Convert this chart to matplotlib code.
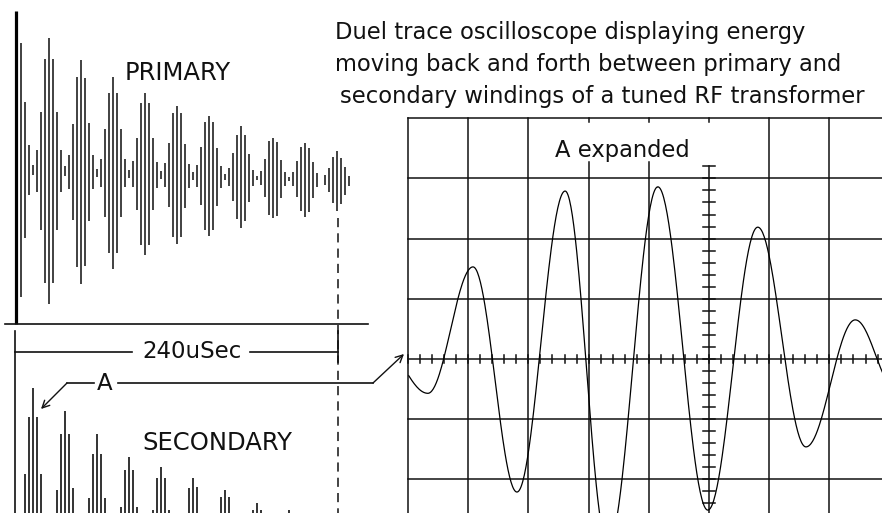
import numpy as np
import matplotlib
matplotlib.use("Agg")
import matplotlib.pyplot as plt

# canvas size in pixels
W, H = 882, 513

# primary winding: half height of each burst line (trace units)
primary = [127, 68, 25, 5, 21, 59, 112, 133, 112, 59, 21, 5,
           17, 48, 95, 112, 94, 49, 17, 4,
           14, 44, 80, 96, 80, 44, 14, 4,
           13, 36, 71, 81, 71, 36, 13, 4,
           12, 32, 62, 69, 62, 32, 12, 4,
           11, 29, 54, 60, 54, 29, 11, 3,
           9, 24, 42, 51, 43, 24, 8, 2,
           7, 19, 37, 40, 37, 19, 7, 2,
           7, 18, 32, 37, 32, 18, 7, 0,
           5, 12, 23, 30, 23, 14, 5]

# secondary winding: visible height of each burst line (trace units)
secondary = [0, 39, 96, 125, 96, 39, 0, 0,
             0, 23, 79, 102, 79, 25, 0, 0,
             0, 15, 59, 79, 59, 15, 0, 0,
             0, 6, 43, 56, 43, 6, 0, 0,
             0, 3, 35, 46, 35, 3, 0, 0,
             0, 0, 25, 35, 26, 0, 0, 0,
             0, 0, 16, 23, 16, 0, 0, 0,
             0, 0, 3, 10, 3, 0, 0, 0,
             0, 0, 0, 3, 0, 0, 0, 0,
             0, 0, 0, 0, 0, 0, 0, 0, 0, 0, 0]

# "A expanded": extremes of the scope trace (time in div, volts in div)
peak_t = [-5.45, -4.67, -3.92, -3.19, -2.39, -1.68, -0.85, -0.02, 0.81, 1.61, 2.43, 3.10]
peak_v = [0.25, -0.57, 1.53, -2.21, 2.79, -3.10, 2.86, -2.51, 2.19, -1.46, 0.65, -0.50]

title_lines = ["Duel trace oscilloscope displaying energy",
               "moving back and forth between primary and",
               "secondary windings of a tuned RF transformer"]

SPAN_US = 240
FIRST_US = 4.46
SAMPLE_US = 2.972
PX_PER_US = 323 / SPAN_US
TILT = 11          # primary trace drifts down a little across the sweep
DIV = 60.2         # scope division in pixels
INK = "#111111"
BAR = "#333333"

fig = plt.figure(figsize=(W / 100, H / 100), dpi=100)


def px_axes(x0, y0, x1, y1):
    ax = fig.add_axes([x0 / W, 1 - y1 / H, (x1 - x0) / W, (y1 - y0) / H])
    ax.axis("off")
    return ax


t = FIRST_US + SAMPLE_US * np.arange(len(primary))

# primary trace
ax_p = px_axes(15, 12, 380, 324)
ax_p.set_xlim(0, 365 / PX_PER_US)
ax_p.set_ylim(170 - 324, 170 - 12)
amp = np.array(primary, dtype=float)
base = -TILT * np.arange(len(primary)) / (len(primary) - 1)
keep = amp > 0
ax_p.vlines(t[keep], (base - amp)[keep], (base + amp)[keep], color=BAR, lw=1.3)

# secondary trace
ax_s = px_axes(15, 331, 380, 513)
ax_s.set_xlim(0, 365 / PX_PER_US)
ax_s.set_ylim(0, 513 - 331)
sec = np.array(secondary, dtype=float)
keep = sec > 0
ax_s.vlines(t[keep], -5, sec[keep], color=BAR, lw=1.4)

# oscilloscope screen
ax_c = px_axes(404, 113, 882, 513)
ax_c.set_xlim((404 - 709) / DIV, (882 - 709) / DIV)
ax_c.set_ylim((359 - 513) / DIV, (359 - 113) / DIV)
glw = 1.1
right = 3.2
for y in [4, 3, 2, 1, 0, -1, -2, -3]:
    ax_c.plot([-5, right], [y, y], color=INK, lw=glw)
for x in [-5, -4, -3, 1, 2]:
    ax_c.plot([x, x], [4, -3], color=INK, lw=glw)
for x in [-2, -1]:
    ax_c.plot([x, x], [3.27, -3], color=INK, lw=glw)
ax_c.plot([0, 0], [3.2, -3], color=INK, lw=glw)
for x in [-2, -1, 0]:
    ax_c.plot([x, x], [4, 3.93], color=INK, lw=glw)
for y in np.arange(-3, 3.21, 0.2):
    ax_c.plot([-0.1, 0.1], [y, y], color=INK, lw=glw)
for x in np.arange(-5, 3.0, 0.2):
    ax_c.plot([x, x], [-0.07, 0.07], color=INK, lw=glw)

ts, vs = [], []
for t0, v0, t1, v1 in zip(peak_t[:-1], peak_v[:-1], peak_t[1:], peak_v[1:]):
    tt = np.linspace(t0, t1, 60)
    ph = (tt - t0) / (t1 - t0)
    ts.append(tt)
    vs.append((v0 + v1) / 2 + (v0 - v1) / 2 * np.cos(np.pi * ph))
ts = np.concatenate(ts)
vs = np.concatenate(vs)
on = ts >= -5
ax_c.plot(ts[on], vs[on], color="black", lw=0.9)

# annotations drawn in pixel space
ax_o = px_axes(0, 0, W, H)
ax_o.set_xlim(0, W)
ax_o.set_ylim(H, 0)

ax_o.plot([15.5, 15.5], [11, 324], color="black", lw=2.3, solid_capstyle="butt")
ax_o.plot([5, 368], [324, 324], color=INK, lw=1.2)
ax_o.plot([15, 15], [331, 513], color=INK, lw=1.2)
ax_o.plot([15, 132], [352, 352], color=INK, lw=1.2)
ax_o.plot([250, 338], [352, 352], color=INK, lw=1.2)
ax_o.plot([338, 338], [331, 362], color=INK, lw=1.2)
ax_o.plot([338, 338], [218, 513], color=INK, lw=1.1, ls=(0, (6, 4)))

arrow = dict(arrowstyle="->", color=INK, lw=1.0, shrinkA=0, shrinkB=0, mutation_scale=13)
ax_o.plot([67, 94], [383, 383], color=INK, lw=1.2)
ax_o.annotate("", xy=(41, 409), xytext=(67, 383), arrowprops=arrow)
ax_o.plot([118, 373], [383, 383], color=INK, lw=1.2)
ax_o.annotate("", xy=(404, 354), xytext=(373, 383), arrowprops=arrow)

txt = dict(color=INK, fontsize=17.5)
ax_o.text(125, 80, "PRIMARY", ha="left", va="baseline", **txt)
ax_o.text(142, 450, "SECONDARY", ha="left", va="baseline", **txt)
ax_o.text(192, 352, "240uSec", ha="center", va="center", color=INK, fontsize=16.5)
ax_o.text(105, 383, "A", ha="center", va="center", color=INK, fontsize=16.5)
ax_o.text(555, 157, "A expanded", ha="left", va="baseline", color=INK, fontsize=16.3)
for i, (line, x0) in enumerate(zip(title_lines, [335, 335, 340])):
    ax_o.text(x0, 39 + 32 * i, line, ha="left", va="baseline", color=INK, fontsize=16.3)

fig.savefig("out.png", dpi=100)
